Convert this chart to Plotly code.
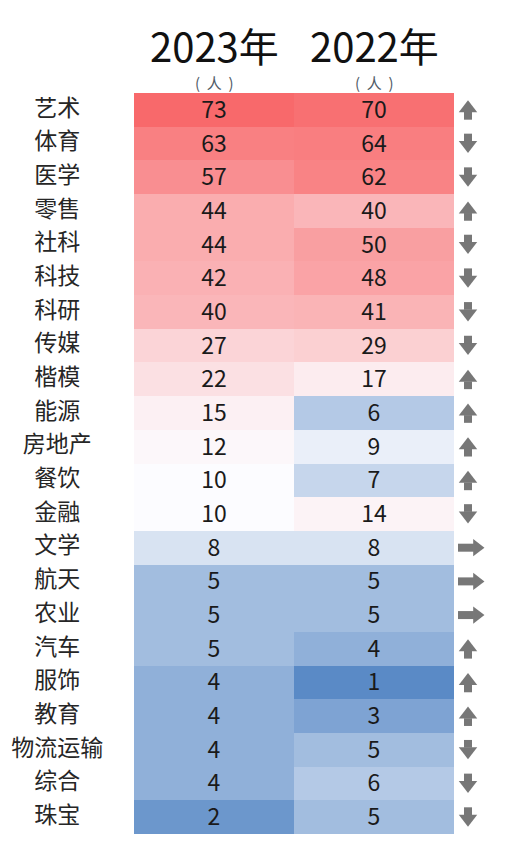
import plotly.graph_objects as go

categories = ["艺术", "体育", "医学", "零售", "社科", "科技", "科研", "传媒", "楷模", "能源",
              "房地产", "餐饮", "金融", "文学", "航天", "农业", "汽车", "服饰", "教育", "物流运输",
              "综合", "珠宝"]
values_2023 = [73, 63, 57, 44, 44, 42, 40, 27, 22, 15, 12, 10, 10, 8, 5, 5, 5, 4, 4, 4, 4, 2]
values_2022 = [70, 64, 62, 40, 50, 48, 41, 29, 17, 6, 9, 7, 14, 8, 5, 5, 4, 1, 3, 5, 6, 5]
columns = ["2023年", "2022年"]
unit = "(  人  )"

rows = list(range(len(categories)))
z = [[a, b] for a, b in zip(values_2023, values_2022)]
allv = values_2023 + values_2022
zmin, zmax = min(allv), max(allv)
srt = sorted(allv)
n = len(srt)
zmid = (srt[n // 2 - 1] + srt[n // 2]) / 2
midpos = (zmid - zmin) / (zmax - zmin)

# pixel scale helpers (fig: 491x844, table 320 px wide, rows 33.7 px)
PX_X = 1 / 160.0
PX_Y = 1 / 33.68

font_cjk = "Noto Sans CJK SC, Noto Sans, sans-serif"
GRAY = "#777777"

fig = go.Figure()
fig.add_trace(go.Heatmap(
    z=z, x=[0, 1], y=rows,
    zmin=zmin, zmax=zmax,
    colorscale=[[0, "#5A8AC6"], [midpos, "#FCFCFF"], [1, "#F8696B"]],
    showscale=False,
    texttemplate="%{z}",
    textfont=dict(size=23, color="#1a1a1a", family=font_cjk),
    hoverinfo="skip",
))

fig.add_trace(go.Scatter(
    x=[-0.98] * len(categories), y=rows, mode="text",
    text=categories, textfont=dict(size=23, color="#262626", family=font_cjk),
    hoverinfo="skip", showlegend=False,
))

# change arrows built from markers
ax_ud = 1.5875
ax_r = 1.606
up_y = [r for r, a, b in zip(rows, values_2023, values_2022) if a > b]
dn_y = [r for r, a, b in zip(rows, values_2023, values_2022) if a < b]
eq_y = [r for r, a, b in zip(rows, values_2023, values_2022) if a == b]

HEAD = 16
STEM_W = 8
# up arrows
fig.add_trace(go.Scatter(x=[ax_ud] * len(up_y), y=[r - 1.5 * PX_Y for r in up_y], mode="markers",
                         marker=dict(symbol="triangle-up", size=HEAD, color=GRAY, line=dict(width=0)),
                         hoverinfo="skip", showlegend=False))
fig.add_trace(go.Scatter(x=[ax_ud] * len(up_y), y=[r + 6 * PX_Y for r in up_y], mode="markers",
                         marker=dict(symbol="line-ns", size=5.5, color=GRAY, line=dict(width=STEM_W, color=GRAY)),
                         hoverinfo="skip", showlegend=False))
# down arrows
fig.add_trace(go.Scatter(x=[ax_ud] * len(dn_y), y=[r + 1.5 * PX_Y for r in dn_y], mode="markers",
                         marker=dict(symbol="triangle-down", size=HEAD, color=GRAY, line=dict(width=0)),
                         hoverinfo="skip", showlegend=False))
fig.add_trace(go.Scatter(x=[ax_ud] * len(dn_y), y=[r - 6 * PX_Y for r in dn_y], mode="markers",
                         marker=dict(symbol="line-ns", size=5.5, color=GRAY, line=dict(width=STEM_W, color=GRAY)),
                         hoverinfo="skip", showlegend=False))
# right arrows
fig.add_trace(go.Scatter(x=[ax_r + 6 * PX_X] * len(eq_y), y=eq_y, mode="markers",
                         marker=dict(symbol="triangle-right", size=15, color=GRAY, line=dict(width=0)),
                         hoverinfo="skip", showlegend=False))
fig.add_trace(go.Scatter(x=[ax_r - 5 * PX_X] * len(eq_y), y=eq_y, mode="markers",
                         marker=dict(symbol="line-ew", size=11.4, color=GRAY, line=dict(width=STEM_W, color=GRAY)),
                         hoverinfo="skip", showlegend=False))

for i, c in enumerate(columns):
    fig.add_annotation(x=i, y=1.0648, xref="x", yref="paper", text=c, showarrow=False,
                       font=dict(size=40, color="#111111", family=font_cjk), yanchor="middle")
    fig.add_annotation(x=i, y=1.0135, xref="x", yref="paper", text=unit, showarrow=False,
                       font=dict(size=15, color="#505A66", family=font_cjk), yanchor="middle")

fig.update_layout(
    width=491, height=844,
    margin=dict(l=0, r=0, t=85, b=18),
    plot_bgcolor="white", paper_bgcolor="white",
    showlegend=False,
    xaxis=dict(range=[-0.5 - 126 / 160, 1.5 + 45 / 160], visible=False, fixedrange=True),
    yaxis=dict(range=[len(categories) - 0.5, -0.5], visible=False, fixedrange=True),
)

fig.write_html("out.html")
